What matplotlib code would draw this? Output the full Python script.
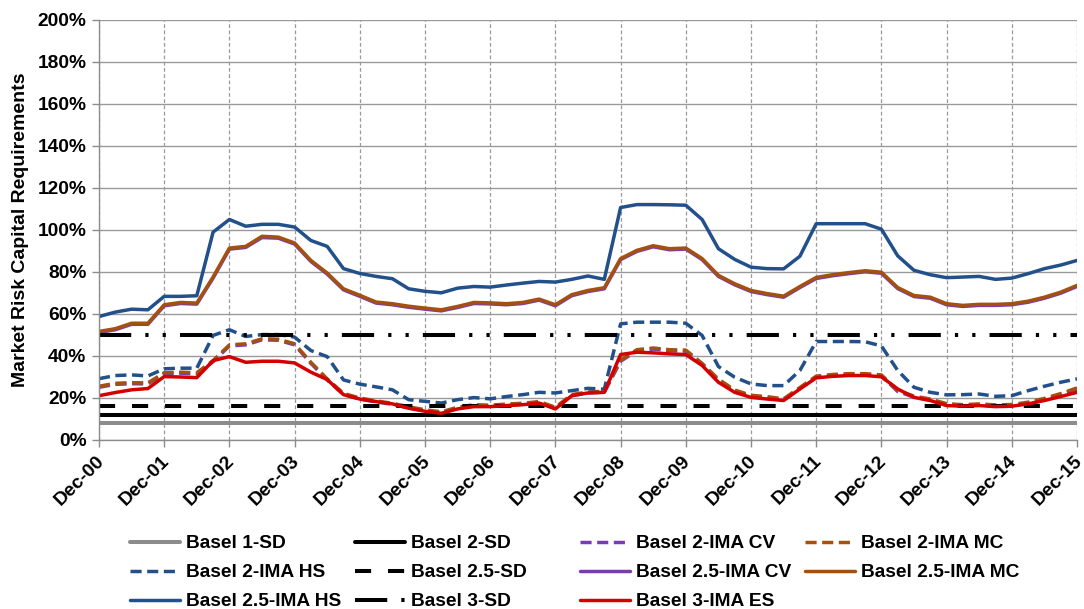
import matplotlib
matplotlib.use("Agg")
import matplotlib.pyplot as plt
from matplotlib.transforms import ScaledTranslation

# Quarterly observations, Dec-2000 .. Dec-2015 (61 quarters), values in %
year_labels = ["Dec-%02d" % y for y in range(0, 16)]

basel1_sd = 8.0
basel2_sd = 12.0
basel25_sd = 16.0
basel3_sd = 50.0

basel2_ima_cv = [25.1, 26.5, 26.8, 26.7, 31.5, 31.8, 31.5, 37.3, 44.8, 45.3, 47.7, 47.5,
                 45.3, 36.5, 28.6, 21.7, 19.5, 18.1, 17.0, 15.3, 13.9, 12.9, 15.1, 16.3,
                 16.1, 16.6, 17.0, 17.8, 15.1, 21.1, 22.4, 22.7, 37.5, 42.5, 43.3, 42.5,
                 42.3, 36.0, 28.5, 23.3, 20.8, 20.1, 19.1, 24.5, 29.9, 30.7, 31.1, 31.1,
                 30.5, 23.1, 20.4, 19.0, 16.8, 16.3, 16.7, 16.2, 16.4, 17.5, 19.3, 21.6, 24.3]
basel2_ima_mc = [25.6, 27.0, 27.3, 27.2, 32.0, 32.3, 32.0, 37.8, 45.3, 45.8, 48.2, 48.0,
                 45.8, 37.0, 29.1, 22.2, 20.0, 18.6, 17.5, 15.8, 14.4, 13.4, 15.6, 16.8,
                 16.6, 17.1, 17.5, 18.3, 15.6, 21.6, 22.9, 23.2, 38.0, 43.0, 43.8, 43.0,
                 42.8, 36.5, 29.0, 23.8, 21.3, 20.6, 19.6, 25.0, 30.4, 31.2, 31.6, 31.6,
                 31.0, 23.6, 20.9, 19.5, 17.3, 16.8, 17.2, 16.7, 16.9, 18.0, 19.8, 22.1, 24.8]
basel2_ima_hs = [29.2, 30.7, 31.0, 30.5, 33.9, 34.2, 34.2, 49.8, 52.5, 49.3, 50.2, 50.2,
                 49.0, 42.6, 39.7, 28.6, 26.6, 25.3, 23.9, 19.2, 18.4, 17.6, 19.2, 20.2,
                 19.6, 20.7, 21.6, 22.7, 22.4, 23.5, 24.6, 24.2, 55.3, 56.1, 56.1, 56.1,
                 55.6, 49.8, 35.0, 29.9, 26.7, 25.9, 25.9, 33.1, 46.9, 46.9, 46.9, 46.8,
                 44.8, 33.1, 25.1, 22.7, 21.5, 21.6, 21.9, 20.8, 21.1, 23.5, 25.6, 27.5, 29.1]
basel25_ima_cv = [51.2, 52.5, 55.1, 55.1, 63.9, 65.0, 64.7, 77.1, 90.9, 91.7, 96.4, 96.1,
                  93.3, 85.0, 79.0, 71.5, 68.4, 65.2, 64.4, 63.2, 62.3, 61.5, 63.1, 65.0,
                  64.8, 64.4, 65.0, 66.6, 63.9, 68.7, 70.7, 72.0, 85.9, 89.8, 92.0, 90.6,
                  90.9, 85.9, 77.9, 73.9, 70.7, 69.2, 68.0, 72.6, 76.9, 78.2, 79.2, 80.1,
                  79.4, 72.1, 68.3, 67.5, 64.4, 63.6, 64.1, 64.1, 64.4, 65.6, 67.5, 69.9, 73.1]
basel25_ima_mc = [51.7, 53.0, 55.6, 55.6, 64.4, 65.5, 65.2, 77.6, 91.4, 92.2, 97.0, 96.6,
                  93.8, 85.5, 79.5, 72.0, 68.9, 65.7, 64.9, 63.7, 62.8, 62.0, 63.6, 65.5,
                  65.3, 64.9, 65.5, 67.1, 64.4, 69.2, 71.2, 72.5, 86.4, 90.3, 92.5, 91.1,
                  91.4, 86.4, 78.4, 74.4, 71.2, 69.7, 68.5, 73.1, 77.4, 78.7, 79.7, 80.6,
                  79.9, 72.6, 68.8, 68.0, 64.9, 64.1, 64.6, 64.6, 64.9, 66.1, 68.0, 70.4, 73.6]
basel25_ima_hs = [58.8, 60.9, 62.3, 62.0, 68.4, 68.4, 68.7, 99.0, 105.0, 101.8, 102.7, 102.7,
                  101.4, 95.0, 92.2, 81.6, 79.3, 77.9, 76.8, 72.0, 70.8, 70.1, 72.3, 73.1,
                  72.8, 73.8, 74.7, 75.5, 75.2, 76.5, 78.1, 76.5, 110.7, 112.1, 112.1, 112.0,
                  111.8, 105.0, 91.1, 86.0, 82.3, 81.6, 81.5, 87.5, 103.0, 103.0, 103.0, 103.0,
                  100.4, 87.7, 80.8, 78.7, 77.3, 77.6, 77.9, 76.5, 77.1, 79.2, 81.6, 83.3, 85.5]
basel3_ima_es = [21.1, 22.6, 23.9, 24.5, 30.2, 30.0, 29.7, 37.8, 39.7, 37.0, 37.5, 37.5,
                 36.7, 32.3, 28.8, 21.6, 19.5, 18.3, 17.2, 15.1, 13.7, 12.7, 14.8, 15.9,
                 15.9, 16.4, 16.8, 17.6, 14.8, 21.1, 22.4, 22.7, 40.7, 41.8, 41.5, 41.0,
                 40.7, 35.5, 27.5, 22.7, 20.3, 19.5, 18.8, 24.3, 29.6, 30.3, 30.7, 30.7,
                 30.1, 24.3, 20.3, 18.8, 16.4, 16.1, 16.4, 15.9, 16.1, 17.2, 18.8, 20.7, 22.7]

quarters = list(range(len(basel25_ima_hs)))

BLUE = "#22508a"
BROWN = "#a4500f"
PURPLE = "#7a3db0"
RED = "#d40000"
GREY = "#8c8c8c"

plt.rcParams["font.family"] = ["Liberation Sans", "DejaVu Sans"]
plt.rcParams["font.weight"] = "bold"

fig = plt.figure(figsize=(10.84, 6.09), dpi=100)
ax = fig.add_axes([99 / 1084, 1 - 440 / 609, 978 / 1084, 420 / 609])

n = len(quarters)
LW = 2.5
LW_SD = 2.9
short_dash = (3.2, 1.6)

series = [
    ("Basel 1-SD", [basel1_sd] * n, dict(color=GREY, lw=LW_SD, ls="-")),
    ("Basel 2-SD", [basel2_sd] * n, dict(color="black", lw=LW_SD, ls="-")),
    ("Basel 2-IMA CV", basel2_ima_cv, dict(color=PURPLE, lw=LW, dashes=short_dash)),
    ("Basel 2-IMA MC", basel2_ima_mc, dict(color=BROWN, lw=LW, dashes=short_dash)),
    ("Basel 2-IMA HS", basel2_ima_hs, dict(color=BLUE, lw=LW, dashes=short_dash)),
    ("Basel 2.5-SD", [basel25_sd] * n, dict(color="black", lw=LW_SD, dashes=(4.0, 4.2))),
    ("Basel 2.5-IMA CV", basel25_ima_cv, dict(color=PURPLE, lw=LW, ls="-")),
    ("Basel 2.5-IMA MC", basel25_ima_mc, dict(color=BROWN, lw=LW, ls="-")),
    ("Basel 2.5-IMA HS", basel25_ima_hs, dict(color=BLUE, lw=LW, ls="-")),
    ("Basel 3-SD", [basel3_sd] * n, dict(color="black", lw=LW_SD,
                                          dashes=(8.0, 3.5, 0.8, 3.5, 0.8, 3.5))),
    ("Basel 3-IMA ES", basel3_ima_es, dict(color=RED, lw=LW, ls="-")),
]

handles = {}
for name, vals, style in series:
    line, = ax.plot(quarters, vals, label=name, solid_capstyle="round",
                    dash_capstyle="butt", solid_joinstyle="round", **style)
    handles[name] = line

ax.set_xlim(0, 60)
ax.set_ylim(0, 200)
ax.set_yticks(range(0, 201, 20))
ax.set_yticklabels(["%d%%" % v for v in range(0, 201, 20)])
ax.set_xticks(range(0, 61, 4))
ax.set_xticklabels(year_labels, rotation=45, ha="right", va="center",
                   rotation_mode="anchor")

ax.yaxis.grid(True, color="#9a9a9a", lw=1.0, ls="-")
ax.xaxis.grid(True, color="#9a9a9a", lw=0.9, ls=(0, (3, 2)))
ax.set_axisbelow(True)

for side in ("top", "right"):
    ax.spines[side].set_visible(False)
for side in ("left", "bottom"):
    ax.spines[side].set_color("#8c8c8c")
    ax.spines[side].set_linewidth(1.0)

ax.tick_params(axis="both", colors="#8c8c8c", length=5, width=1.0, labelcolor="black",
               labelsize=13.8)
ax.tick_params(axis="x", pad=0)
ax.tick_params(axis="y", pad=4)

# nudge the slanted year labels so their upper ends sit just below each tick
shift = ScaledTranslation(2.5 / 100, -11.5 / 100, fig.dpi_scale_trans)
for lbl in ax.get_xticklabels():
    lbl.set_transform(lbl.get_transform() + shift)

ax.set_ylabel("Market Risk Capital Requirements", fontsize=14, fontweight="bold",
              labelpad=6)

# Legend laid out in four equal-width columns below the plot
columns = [
    ["Basel 1-SD", "Basel 2-IMA HS", "Basel 2.5-IMA HS"],
    ["Basel 2-SD", "Basel 2.5-SD", "Basel 3-SD"],
    ["Basel 2-IMA CV", "Basel 2.5-IMA CV", "Basel 3-IMA ES"],
    ["Basel 2-IMA MC", "Basel 2.5-IMA MC"],
]
col_x = [130, 355, 580, 805]
for cx, names in zip(col_x, columns):
    leg = fig.legend([handles[k] for k in names], names, loc="upper left",
                     bbox_to_anchor=(cx / 1084, 1 - 535 / 609), frameon=False,
                     fontsize=13.8, handlelength=2.6, handletextpad=0.3,
                     labelspacing=0.6, borderpad=0, borderaxespad=0)
    for t in leg.get_texts():
        t.set_fontweight("bold")

fig.savefig("out.png", dpi=100)
